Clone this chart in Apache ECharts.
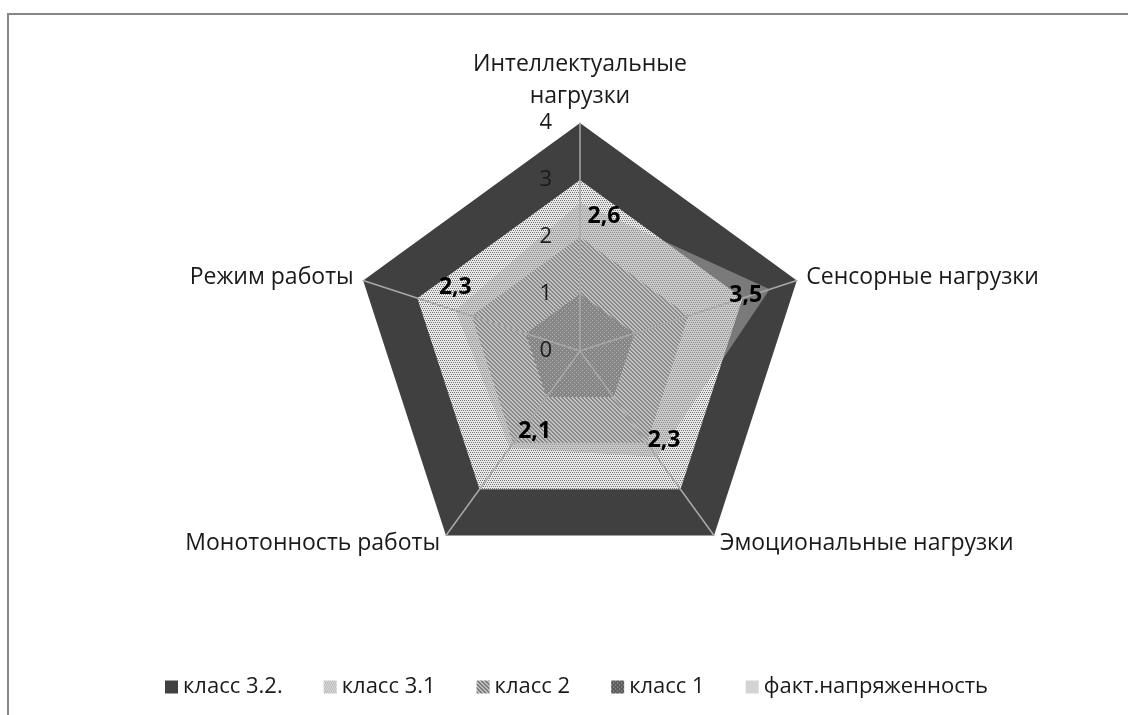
<!DOCTYPE html>
<html>
<head>
<meta charset="utf-8">
<script src="https://cdn.jsdelivr.net/npm/echarts@6.0.0/dist/echarts.min.js"></script>
<style>
  html, body { margin: 0; padding: 0; background: #fff; overflow: hidden; }
  #wrap { position: relative; width: 1128px; height: 715px; }
  #frame { position: absolute; left: 7px; top: 13px; width: 1200px; height: 800px; border: 2px solid #878787; box-sizing: border-box; }
  #main { position: absolute; left: 0; top: 0; width: 1128px; height: 715px; }
</style>
</head>
<body>
<div id="wrap"><div id="frame"></div><div id="main"></div></div>
<script>
// оси в порядке ECharts (против часовой стрелки, начиная сверху)
var indicatorNames = ['Интеллектуальные\nнагрузки', 'Режим работы', 'Монотонность работы', 'Эмоциональные нагрузки', 'Сенсорные нагрузки'];
var axisMax = 4;
var seriesNames = ['класс 3.2.', 'класс 3.1', 'класс 2', 'класс 1', 'факт.напряженность'];
var class32 = [4, 4, 4, 4, 4];
var class31 = [3, 3, 3, 3, 3];
var class2 = [2, 2, 2, 2, 2];
var class1 = [1, 1, 1, 1, 1];
var factValues = [2.6, 2.3, 2.1, 2.3, 3.5];

// сдвиг подписей факт. значений относительно точки (dx, dy)
var labelShift = [[24, 14], [0, -23], [25, -16], [7, -17], [-24, 6]];

var FONT = 'Open Sans';

//текстура-узор для заливки
function makePattern(size, bg, fg, isOn) {
  var c = document.createElement('canvas');
  c.width = size; c.height = size;
  var ctx = c.getContext('2d');
  ctx.fillStyle = bg;
  ctx.fillRect(0, 0, size, size);
  ctx.fillStyle = fg;
  for (var x = 0; x < size; x++) {
    for (var y = 0; y < size; y++) {
      if (isOn(x, y)) ctx.fillRect(x, y, 1, 1);
    }
  }
  return { image: c, repeat: 'repeat' };
}

var dots31 = makePattern(4, '#e8e8e8', '#727272', function (x, y) {
  return (y === 0 && (x === 0 || x === 2)) || (y === 2 && (x === 1 || x === 3));
});
var hatch2 = makePattern(4, '#dcdcdc', '#5e5e5e', function (x, y) { var d = ((x - y) % 4 + 4) % 4; return d === 0 || d === 1; });
var dots1 = makePattern(4, '#5a5a5a', '#c0c0c0', function (x, y) { return (x === 0 && y === 0) || (x === 2 && y === 2); });
var factColor = 'rgba(174,174,174,0.53)';

var rich = {};
labelShift.forEach(function (s, i) {
  rich['p' + i] = {
    fontFamily: FONT, fontSize: 23, fontWeight: 'bold', color: '#000',
    padding: [Math.max(0, 2 * s[1]), Math.max(0, -2 * s[0]), Math.max(0, -2 * s[1]), Math.max(0, 2 * s[0])]
  };
});

var labelCounter = 0;

function areaSeries(name, values, fill) {
  return {
    type: 'radar',
    name: name,
    z: 2,
    symbol: 'none',
    itemStyle: { color: fill },
    lineStyle: { width: 0 },
    areaStyle: { color: fill, opacity: 1 },
    data: [{ value: values, name: name }]
  };
}

var chart = echarts.init(document.getElementById('main'));
var option = {
  animation: false,
  textStyle: { fontFamily: FONT },
  legend: {
    data: seriesNames,
    left: 160,
    top: 671,
    icon: 'rect',
    itemWidth: 13,
    itemHeight: 13,
    itemGap: 41,
    textStyle: { fontFamily: FONT, fontSize: 22, color: '#1a1a1a' }
  },
  radar: {
    center: [580, 351],
    radius: 228,
    startAngle: 90,
    splitNumber: 4,
    shape: 'polygon',
    z: 3,
    nameGap: 10,
    axisName: { color: '#1a1a1a', fontSize: 23, fontFamily: FONT, lineHeight: 32 },
    indicator: indicatorNames.map(function (n, i) {
      var ind = { name: n, min: 0, max: axisMax };
      if (i === 0) {
        ind.axisLabel = { show: true, margin: 28, color: '#1a1a1a', fontSize: 22, fontFamily: FONT };
      }
      return ind;
    }),
    axisLine: { show: true, lineStyle: { color: '#a8a8a8', width: 1.5 } },
    axisTick: { show: false },
    axisLabel: { show: false, color: '#1a1a1a' },
    splitLine: { show: false },
    splitArea: { show: false }
  },
  series: [
    areaSeries(seriesNames[0], class32, '#404040'),
    areaSeries(seriesNames[1], class31, dots31),
    areaSeries(seriesNames[2], class2, hatch2),
    areaSeries(seriesNames[3], class1, dots1),
    areaSeries(seriesNames[4], factValues, factColor),
    {
      // подписи факт. значений поверх осей
      type: 'radar',
      name: seriesNames[4],
      z: 4,
      symbol: 'circle',
      symbolSize: 1,
      itemStyle: { color: 'rgba(0,0,0,0)' },
      lineStyle: { width: 0 },
      label: {
        show: true,
        position: 'inside',
        fontFamily: FONT, fontSize: 23, fontWeight: 'bold', color: '#000',
        formatter: function (p) {
          var i = p.dimensionIndex != null ? p.dimensionIndex : (labelCounter++ % 5);
          var v = Array.isArray(p.value) ? p.value[i] : p.value;
          return '{p' + i + '|' + String(v).replace('.', ',') + '}';
        },
        rich: rich
      },
      data: [{ value: factValues, name: seriesNames[4] }]
    }
  ]
};
chart.setOption(option);
</script>
</body>
</html>
